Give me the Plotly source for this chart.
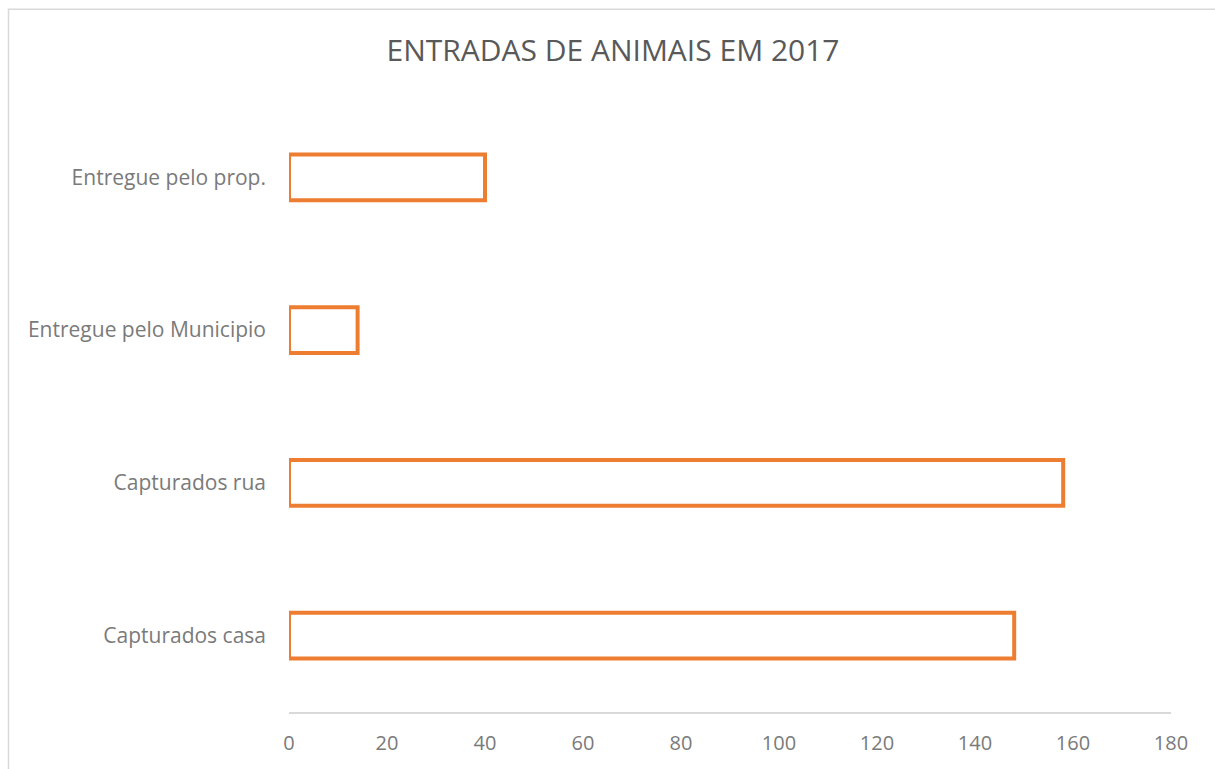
import plotly.graph_objects as go

categories = ["Capturados casa", "Capturados rua", "Entregue pelo Municipio", "Entregue pelo prop."]
values = [148, 158, 14, 40]
x_ticks = [0, 20, 40, 60, 80, 100, 120, 140, 160, 180]

W, H = 1215, 769
L, R, T, B = 289, 44, 100.5, 56.5
pw, ph = W - L - R, H - T - B

fig = go.Figure(go.Bar(
    y=categories, x=values, orientation="h",
    marker=dict(color="white", line=dict(color="#ED7D31", width=4)),
    width=0.3,
))

FONT = "Open Sans, Lato, sans-serif"
fig.update_layout(
    width=W, height=H,
    margin=dict(l=L, r=R, t=T, b=B),
    paper_bgcolor="white", plot_bgcolor="white",
    showlegend=False,
    font=dict(family=FONT, color="#7a7a7a"),
    title=dict(text="ENTRADAS DE ANIMAIS EM 2017", x=613 / W, xref="container", xanchor="center",
               y=1 - 50 / H, yref="container", yanchor="middle",
               font=dict(family=FONT, size=30, color="#595959")),
    xaxis=dict(range=[0, 180], tickvals=x_ticks, showgrid=False, zeroline=False,
               showline=True, linecolor="#d9d9d9", linewidth=2, ticks="",
               tickfont=dict(size=20, color="#7a7a7a"), ticklabelstandoff=12, fixedrange=True),
    yaxis=dict(categoryorder="array", categoryarray=categories, range=[-0.5, 3.5],
               showgrid=False, zeroline=False, showline=False, ticks="",
               tickfont=dict(size=21, color="#7a7a7a"), ticklabelstandoff=22, fixedrange=True),
    shapes=[dict(type="rect", xref="paper", yref="paper",
                 x0=(8.5 - L) / pw, x1=(W + 10 - L) / pw,
                 y0=(H - B - (H + 10)) / ph, y1=(H - B - 8.5) / ph,
                 line=dict(color="#d9d9d9", width=1.5), fillcolor="rgba(0,0,0,0)", layer="below")],
)

fig.write_html("out.html")
